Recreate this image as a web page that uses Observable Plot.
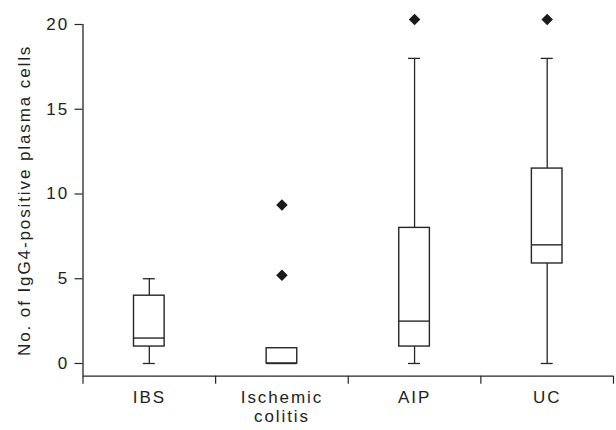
<!DOCTYPE html>
<html>
<head>
<meta charset="utf-8">
<script src="https://cdn.jsdelivr.net/npm/d3@7"></script>
<script src="https://cdn.jsdelivr.net/npm/@observablehq/plot@0.6"></script>
<style>
  html, body { margin: 0; padding: 0; background: #fff; }
  svg text { letter-spacing: 1.9px; }
</style>
</head>
<body>
<div id="chart"></div>
<script>
// ---- data ----
const categories = ["IBS", "Ischemic\ncolitis", "AIP", "UC"];
const lowWhisker = [0, 0, 0, 0];
const q1Values = [1, 0, 1, 5.9];
const medianValues = [1.5, 0, 2.5, 7];
const q3Values = [4, 0.9, 8, 11.5];
const highWhisker = [5, 0.9, 18, 18];
const outlierGroup = ["Ischemic\ncolitis", "Ischemic\ncolitis", "AIP", "UC"];
const outlierValue = [9.35, 5.2, 20.3, 20.3];
const yTicks = [0, 5, 10, 15, 20];
const yLabel = "No. of IgG4-positive plasma cells";

// ---- tables built from the arrays ----
const boxes = categories.map((c, i) => ({
  i, c,
  lo: lowWhisker[i], q1: q1Values[i], med: medianValues[i], q3: q3Values[i], hi: highWhisker[i]
}));
const outliers = outlierGroup.map((g, k) => ({ i: categories.indexOf(g), v: outlierValue[k] }));

const ink = "#262626";
const yMin = -0.75;
const boxInset = 51;
const capInset = 60.3;
const fs = 17;

const chart = Plot.plot({
  width: 616,
  height: 430,
  marginLeft: 82.5,
  marginRight: 3,
  marginTop: 24,
  marginBottom: 54.3,
  style: { fontFamily: "'Liberation Sans', Arial, sans-serif", fontSize: "17px", color: "#222", background: "#fff" },
  x: { domain: [0, categories.length], axis: null },
  y: { domain: [yMin, 20], axis: null },
  marks: [
    // axes
    Plot.ruleY([yMin], { stroke: ink, strokeWidth: 1.3 }),
    Plot.ruleX([0], { stroke: ink, strokeWidth: 1.3 }),
    Plot.axisY({ ticks: yTicks, tickSize: 8, tickPadding: 6, label: null, stroke: ink, strokeWidth: 1.2, fontSize: fs }),
    Plot.axisX(d3.range(categories.length + 1), { tickSize: 8, tickFormat: () => "", label: null, stroke: ink, strokeWidth: 1.2 }),
    Plot.text(boxes, {
      x: d => d.i + 0.5, text: d => d.c, frameAnchor: "bottom", textAnchor: "middle",
      lineAnchor: "top", dy: 14.3, lineHeight: 1.07, fill: "#222", fontSize: fs
    }),
    Plot.text([yLabel], { frameAnchor: "left", textAnchor: "middle", rotate: -90, dx: -58, fill: "#222", fontSize: fs }),
    // whiskers
    Plot.ruleX(boxes.filter(d => d.hi > d.q3), { x: d => d.i + 0.5, y1: "q3", y2: "hi", stroke: ink, strokeWidth: 1.3 }),
    Plot.ruleX(boxes.filter(d => d.lo < d.q1), { x: d => d.i + 0.5, y1: "lo", y2: "q1", stroke: ink, strokeWidth: 1.3 }),
    Plot.ruleY(boxes.filter(d => d.hi > d.q3), { x1: d => d.i, x2: d => d.i + 1, y: "hi", insetLeft: capInset, insetRight: capInset, stroke: ink, strokeWidth: 1.3 }),
    Plot.ruleY(boxes.filter(d => d.lo < d.q1), { x1: d => d.i, x2: d => d.i + 1, y: "lo", insetLeft: capInset, insetRight: capInset, stroke: ink, strokeWidth: 1.3 }),
    // boxes
    Plot.rect(boxes, { x1: d => d.i, x2: d => d.i + 1, y1: "q1", y2: "q3", insetLeft: boxInset, insetRight: boxInset, fill: "white", stroke: ink, strokeWidth: 1.4 }),
    Plot.ruleY(boxes, { x1: d => d.i, x2: d => d.i + 1, y: "med", insetLeft: boxInset, insetRight: boxInset, stroke: ink, strokeWidth: 1.4 }),
    // outliers
    Plot.dot(outliers, { x: d => d.i + 0.5, y: "v", symbol: "diamond2", r: 5.2, fill: "#1a1a1a", stroke: "none" })
  ]
});
document.getElementById("chart").appendChild(chart);
</script>
</body>
</html>
